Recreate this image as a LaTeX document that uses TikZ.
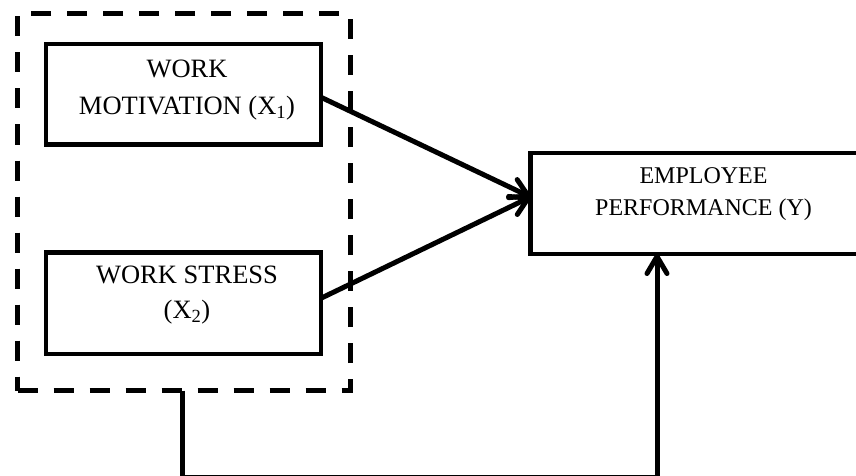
\documentclass[tikz,border=0pt]{standalone}
\usepackage{fontspec}
\setmainfont{Liberation Serif}
\usetikzlibrary{arrows.meta,calc}
\tikzset{
  box/.style={draw, line width=4.5pt, rectangle, inner sep=0pt, outer sep=0pt},
  dashbox/.style={draw, line width=5pt, rectangle, inner sep=0pt, outer sep=0pt, dash pattern=on 20pt off 16pt},
  lbl/.style={anchor=base, inner sep=0pt, outer sep=0pt},
  conn/.style={line width=5pt, -{Straight Barb[length=17pt,width=20pt,round]}},
  link/.style={line width=5pt}
}
\begin{document}
\begin{tikzpicture}[x=1pt,y=-1pt]
\useasboundingbox (0,0) rectangle (856,476);
\clip (0,0) rectangle (856,476);
% dashed group
\node[dashbox, minimum width=332.5pt, minimum height=376.5pt] (grp) at (183.75,202.25) {};
% boxes
\node[box, minimum width=275pt, minimum height=100.5pt] (b1) at (183.5,94.25) {};
\node[box, minimum width=275pt, minimum height=101.5pt] (b2) at (183.5,303.25) {};
\node[box, minimum width=349pt, minimum height=101pt] (by) at (705,203.5) {};
% labels
\node[lbl] (t1) at (187,78) {\fontsize{26.5}{36.5}\selectfont\renewcommand\arraystretch{1}\begin{tabular}[t]{@{}c@{}}WORK\\MOTIVATION (X\textsubscript{1})\end{tabular}};
\node[lbl] (t2) at (187,283) {\fontsize{26.5}{35.5}\selectfont\renewcommand\arraystretch{1}\begin{tabular}[t]{@{}c@{}}WORK STRESS\\(X\textsubscript{2})\end{tabular}};
\node[lbl] (t3) at (703.5,183) {\fontsize{24}{32}\selectfont\renewcommand\arraystretch{1}\begin{tabular}[t]{@{}c@{}}EMPLOYEE\\PERFORMANCE (Y)\end{tabular}};
% arrows
\draw[conn] ([yshift=-3pt]b1.east) -- ([yshift=6.5pt]by.west);
\draw[conn] ([yshift=5pt]b2.east) -- ([yshift=6.5pt]by.west);
% bottom connector
\coordinate (bl) at (182,477.5);
\coordinate (br) at (657,477.5);
\draw[link] (bl |- grp.south) -- (bl) -- (br);
\draw[conn] (br) -- (br |- by.south);
\end{tikzpicture}
\end{document}
